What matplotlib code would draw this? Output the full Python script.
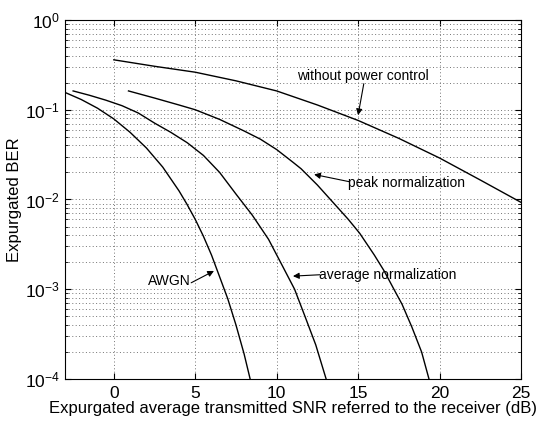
# -*- coding: utf-8 -*-
# Expurgated BER vs. SNR, four curves on a semilog plot (MATLAB-like style)

import matplotlib
matplotlib.use("Agg")
import matplotlib.pyplot as plt
from matplotlib.ticker import LogLocator, NullFormatter

plt.rcParams['font.family'] = ['Liberation Sans', 'DejaVu Sans']
plt.rcParams['mathtext.default'] = 'regular'

# ---------------- data ----------------
awgn_x = [-3, -2, -1, 0, 1, 2, 3, 4, 4.5, 5, 5.5, 6, 6.5, 7, 7.5, 8, 8.5]
awgn_y = [0.156, 0.130, 0.104, 0.079, 0.056, 0.0375, 0.023, 0.0125, 0.0088,
          0.006, 0.0039, 0.0024, 0.00137, 0.00078, 0.0004, 0.00019, 0.00008]

avg_x = [-2.5, -1.5, -0.5, 0.5, 1.5, 2.5, 3.5, 4.5, 5.5, 6.5, 7.5, 8.5,
         9.5, 10.3, 11.1, 11.7, 12.4, 13.2]
avg_y = [0.162, 0.145, 0.128, 0.111, 0.092, 0.071, 0.056, 0.043, 0.031,
         0.020, 0.0115, 0.0067, 0.0036, 0.0019, 0.001, 0.00052, 0.00024, 0.00008]

peak_x = [0.9, 2.5, 4, 5, 6.5, 8, 9, 10, 11, 11.5, 12.5, 13.6, 14.4, 15.1,
          16, 16.6, 17.2, 17.7, 18.3, 18.9, 19.5]
peak_y = [0.162, 0.135, 0.113, 0.100, 0.078, 0.058, 0.047, 0.036, 0.026,
          0.022, 0.0145, 0.0087, 0.0060, 0.0042, 0.0024, 0.0016, 0.001,
          0.00068, 0.00038, 0.0002, 0.00008]

nopc_x = [0, 2.5, 5, 7.5, 10, 12.5, 15, 17.5, 20, 22.5, 25]
nopc_y = [0.36, 0.305, 0.262, 0.21, 0.162, 0.113, 0.076, 0.048,
          0.029, 0.0165, 0.0093]

x_ticks = [0, 5, 10, 15, 20, 25]

# ---------------- figure ----------------
fig = plt.figure(figsize=(5.53, 4.21), dpi=100)
ax = fig.add_axes([0.1175, 0.0998, 0.8245, 0.8527])

for xs, ys in [(awgn_x, awgn_y), (avg_x, avg_y), (peak_x, peak_y), (nopc_x, nopc_y)]:
    ax.semilogy(xs, ys, color='k', lw=1.0)

ax.set_xlim(-3, 25)
ax.set_ylim(1e-4, 1)
ax.set_xticks(x_ticks)
ax.yaxis.set_major_locator(LogLocator(base=10, numticks=10))
ax.yaxis.set_minor_locator(LogLocator(base=10, subs=range(2, 10), numticks=20))
ax.yaxis.set_minor_formatter(NullFormatter())

# dotted grid like MATLAB (sparse grey dots)
grid_style = dict(linestyle=(0, (1, 2.5)), color='0.45', lw=0.7)
ax.grid(True, which='major', axis='both', **grid_style)
ax.grid(True, which='minor', axis='y', **grid_style)

ax.tick_params(which='both', direction='in', top=True, right=True, labelsize=12.5)
ax.tick_params(which='major', length=4)
ax.tick_params(which='minor', length=2)
ax.tick_params(axis='x', pad=5)
for sp in ax.spines.values():
    sp.set_linewidth(0.8)

ax.set_xlabel("Expurgated average transmitted SNR referred to the receiver (dB)", fontsize=12, labelpad=0)
ax.set_ylabel("Expurgated BER", fontsize=12, labelpad=2)

# annotations with arrows
arrow = dict(arrowstyle='-|>', color='k', lw=0.8, mutation_scale=9, shrinkA=0, shrinkB=0)
fs = 10

ax.text(15.3, 0.235, "without power control", fontsize=fs, ha='center', va='center')
ax.annotate('', xy=(15.0, 0.087), xytext=(15.35, 0.195), arrowprops=arrow)

ax.text(14.4, 0.0153, "peak normalization", fontsize=fs, ha='left', va='center')
ax.annotate('', xy=(12.3, 0.019), xytext=(14.45, 0.0158), arrowprops=arrow)

ax.text(12.6, 0.00144, "average normalization", fontsize=fs, ha='left', va='center')
ax.annotate('', xy=(11.0, 0.0014), xytext=(12.65, 0.00145), arrowprops=arrow)

ax.text(4.75, 0.00125, "AWGN", fontsize=fs, ha='right', va='center')
ax.annotate('', xy=(6.15, 0.0016), xytext=(4.75, 0.00118), arrowprops=arrow)

fig.savefig("out.png", dpi=100)
